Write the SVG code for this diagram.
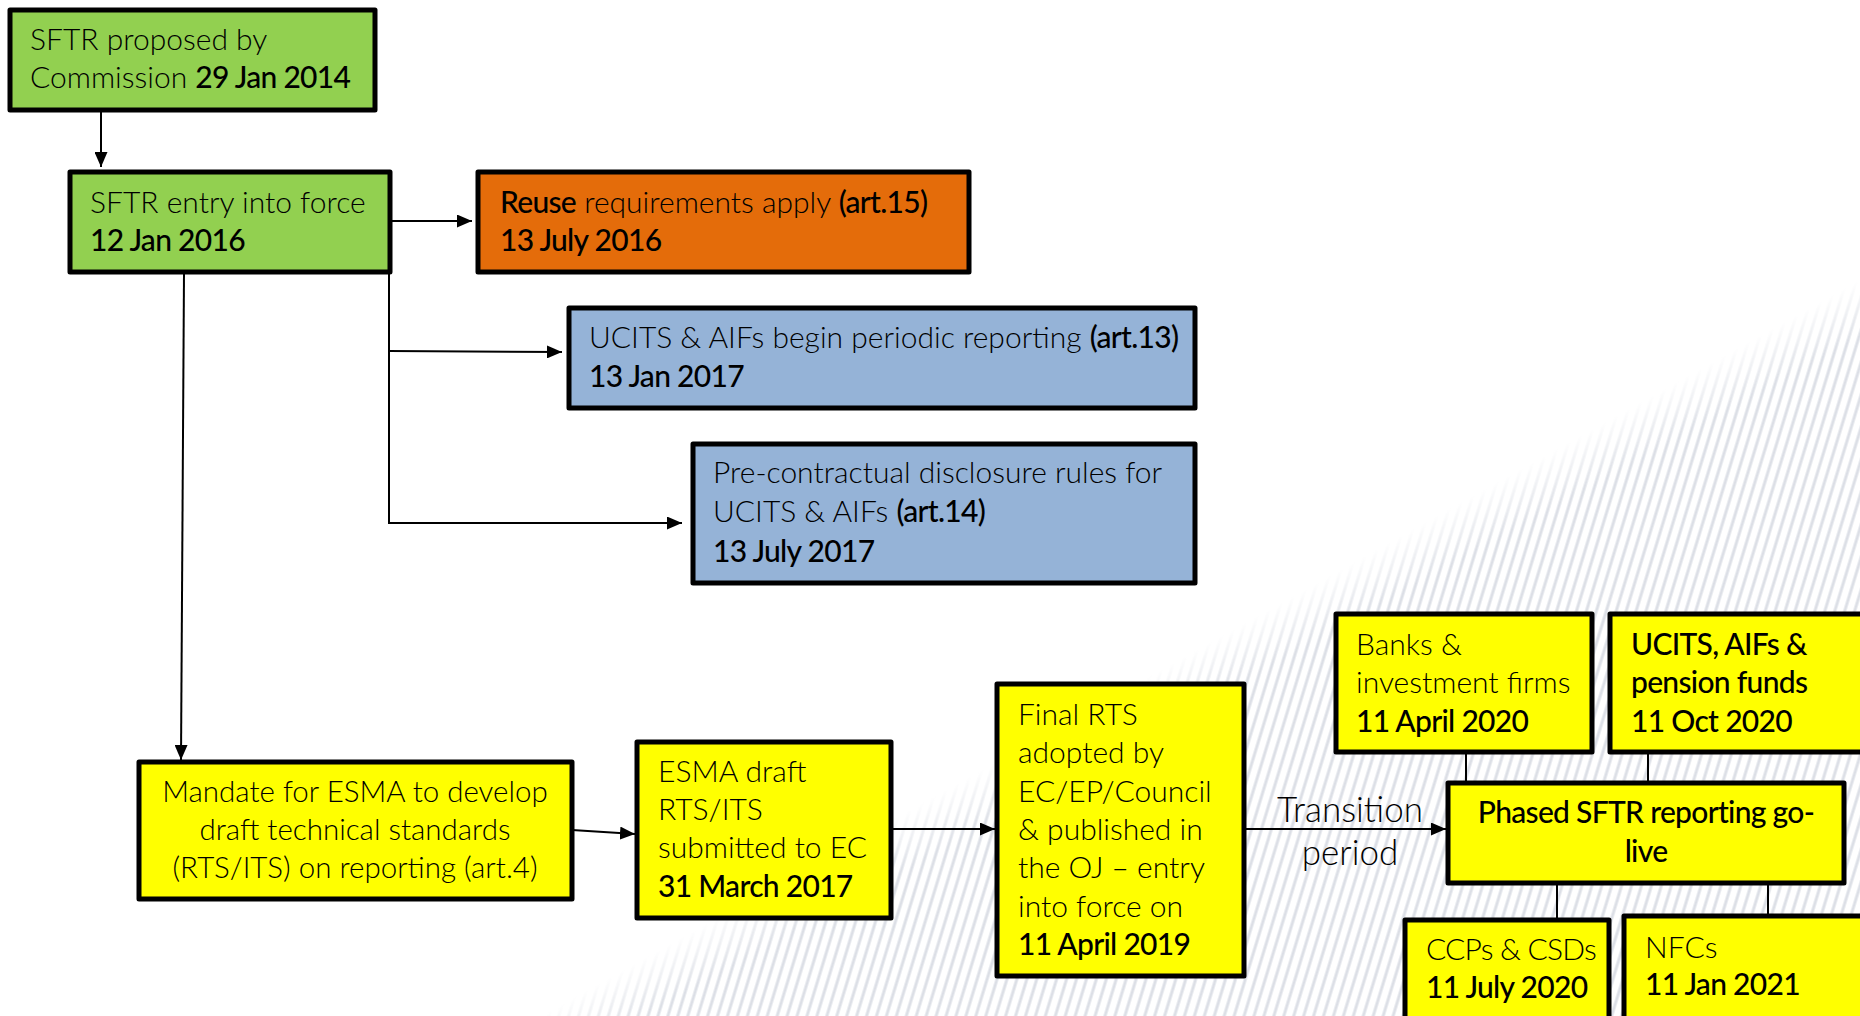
<svg xmlns="http://www.w3.org/2000/svg" width="1860" height="1016" viewBox="0 0 1860 1016">
<style>
.t{font-family:Lato,"Liberation Sans",sans-serif;font-size:30px;font-weight:300;fill:#000}
.b{font-weight:500;letter-spacing:-0.7px}
.box{stroke:#000;stroke-width:5;stroke-linejoin:round}
.g{fill:#92D050}.o{fill:#E46C0A}.bl{fill:#95B3D7}.y{fill:#FFFF00}
.c{fill:none;stroke:#000;stroke-width:2}
.a{marker-end:url(#ah)}
</style>
<defs>
<marker id="ah" markerUnits="userSpaceOnUse" markerWidth="15" markerHeight="13" refX="15" refY="6.5" orient="auto">
<path d="M0,0 L15,6.5 L0,13 z" fill="#000"/>
</marker>
<pattern id="hatch" patternUnits="userSpaceOnUse" width="9.5" height="20" patternTransform="rotate(17)">
<line x1="4.75" y1="0" x2="4.75" y2="20" stroke="#DCDFE6" stroke-width="3"/>
</pattern>
<linearGradient id="fade" gradientUnits="userSpaceOnUse" x1="1200" y1="648" x2="1224" y2="691">
<stop offset="0" stop-color="#fff" stop-opacity="0"/>
<stop offset="1" stop-color="#fff" stop-opacity="1"/>
</linearGradient>
<mask id="m">
<polygon points="540,1016 1860,280 1860,1016" fill="url(#fade)"/>
</mask>
</defs>
<rect width="1860" height="1016" fill="#fff"/>
<g id="background">
<rect x="0" y="0" width="1860" height="1016" fill="url(#hatch)" mask="url(#m)"/>
</g>
<g id="connectors">
<path class="c a" d="M101,110 V167"/>
<path class="c a" d="M390,221 H472"/>
<path class="c a" d="M389,272 V523 H682"/>
<path class="c a" d="M389,351 L562,352"/>
<path class="c a" d="M184,273 L181,760"/>
<path class="c a" d="M572,830 L635,834"/>
<path class="c a" d="M891,829 H995"/>
<path class="c a" d="M1245,829 H1446"/>
<path class="c" d="M1466,752 V783"/>
<path class="c" d="M1648,752 V783"/>
<path class="c" d="M1557,883 V920"/>
<path class="c" d="M1768,880 V916"/>
</g>
<g id="n1">
<rect class="box g" x="10" y="10" width="365" height="100"/>
<text class="t" x="30" y="50">SFTR proposed by</text>
<text class="t" x="30" y="88">Commission <tspan class="b">29 Jan 2014</tspan></text>
</g>
<g id="n2">
<rect class="box g" x="70" y="172" width="320" height="100"/>
<text class="t" x="90" y="213">SFTR entry into force</text>
<text class="t b" x="90" y="251">12 Jan 2016</text>
</g>
<g id="n3">
<rect class="box o" x="478" y="172" width="491" height="100"/>
<text class="t" x="500" y="213"><tspan class="b">Reuse</tspan> requirements apply <tspan class="b">(art.15)</tspan></text>
<text class="t b" x="500" y="251">13 July 2016</text>
</g>
<g id="n4">
<rect class="box bl" x="569" y="308" width="626" height="100"/>
<text class="t" x="589" y="348">UCITS &amp; AIFs begin periodic reporting <tspan class="b">(art.13)</tspan></text>
<text class="t b" x="589" y="387">13 Jan 2017</text>
</g>
<g id="n5">
<rect class="box bl" x="693" y="444" width="502" height="139"/>
<text class="t" x="713" y="483">Pre-contractual disclosure rules for</text>
<text class="t" x="713" y="522">UCITS &amp; AIFs <tspan class="b">(art.14)</tspan></text>
<text class="t b" x="713" y="562">13 July 2017</text>
</g>
<g id="n6">
<rect class="box y" x="139" y="762" width="433" height="137"/>
<text class="t" x="355" y="802" text-anchor="middle" style="font-size:29.5px">Mandate for ESMA to develop</text>
<text class="t" x="355" y="840" text-anchor="middle" style="font-size:29.5px">draft technical standards</text>
<text class="t" x="355" y="878" text-anchor="middle" style="font-size:29.5px">(RTS/ITS) on reporting (art.4)</text>
</g>
<g id="n7">
<rect class="box y" x="637" y="742" width="254" height="176"/>
<text class="t" x="658" y="782">ESMA draft</text>
<text class="t" x="658" y="820">RTS/ITS</text>
<text class="t" x="658" y="858">submitted to EC</text>
<text class="t b" x="658" y="897">31 March 2017</text>
</g>
<g id="n8">
<rect class="box y" x="997" y="684" width="247" height="292"/>
<text class="t" x="1018" y="725">Final RTS</text>
<text class="t" x="1018" y="763">adopted by</text>
<text class="t" x="1018" y="802">EC/EP/Council</text>
<text class="t" x="1018" y="840">&amp; published in</text>
<text class="t" x="1018" y="878">the OJ – entry</text>
<text class="t" x="1018" y="917">into force on</text>
<text class="t b" x="1018" y="955">11 April 2019</text>
</g>
<g id="transition-label">
<text class="t" x="1350" y="822" text-anchor="middle" style="font-size:35px">Transition</text>
<text class="t" x="1350" y="865" text-anchor="middle" style="font-size:35px">period</text>
</g>
<g id="n9">
<rect class="box y" x="1448" y="783" width="396" height="100"/>
<text class="t b" x="1646" y="823" text-anchor="middle">Phased SFTR reporting go-</text>
<text class="t b" x="1646" y="862" text-anchor="middle">live</text>
</g>
<g id="n10">
<rect class="box y" x="1336" y="614" width="256" height="138"/>
<text class="t" x="1356" y="655">Banks &amp;</text>
<text class="t" x="1356" y="693">investment firms</text>
<text class="t b" x="1356" y="732">11 April 2020</text>
</g>
<g id="n11">
<rect class="box y" x="1610" y="614" width="270" height="138"/>
<text class="t b" x="1631" y="655">UCITS, AIFs &amp;</text>
<text class="t b" x="1631" y="693">pension funds</text>
<text class="t b" x="1631" y="732">11 Oct 2020</text>
</g>
<g id="n12">
<rect class="box y" x="1405" y="920" width="204" height="120"/>
<text class="t" x="1426" y="960" style="letter-spacing:-0.8px">CCPs &amp; CSDs</text>
<text class="t b" x="1426" y="998">11 July 2020</text>
</g>
<g id="n13">
<rect class="box y" x="1624" y="916" width="260" height="120"/>
<text class="t" x="1645" y="958">NFCs</text>
<text class="t b" x="1645" y="995">11 Jan 2021</text>
</g>
</svg>
